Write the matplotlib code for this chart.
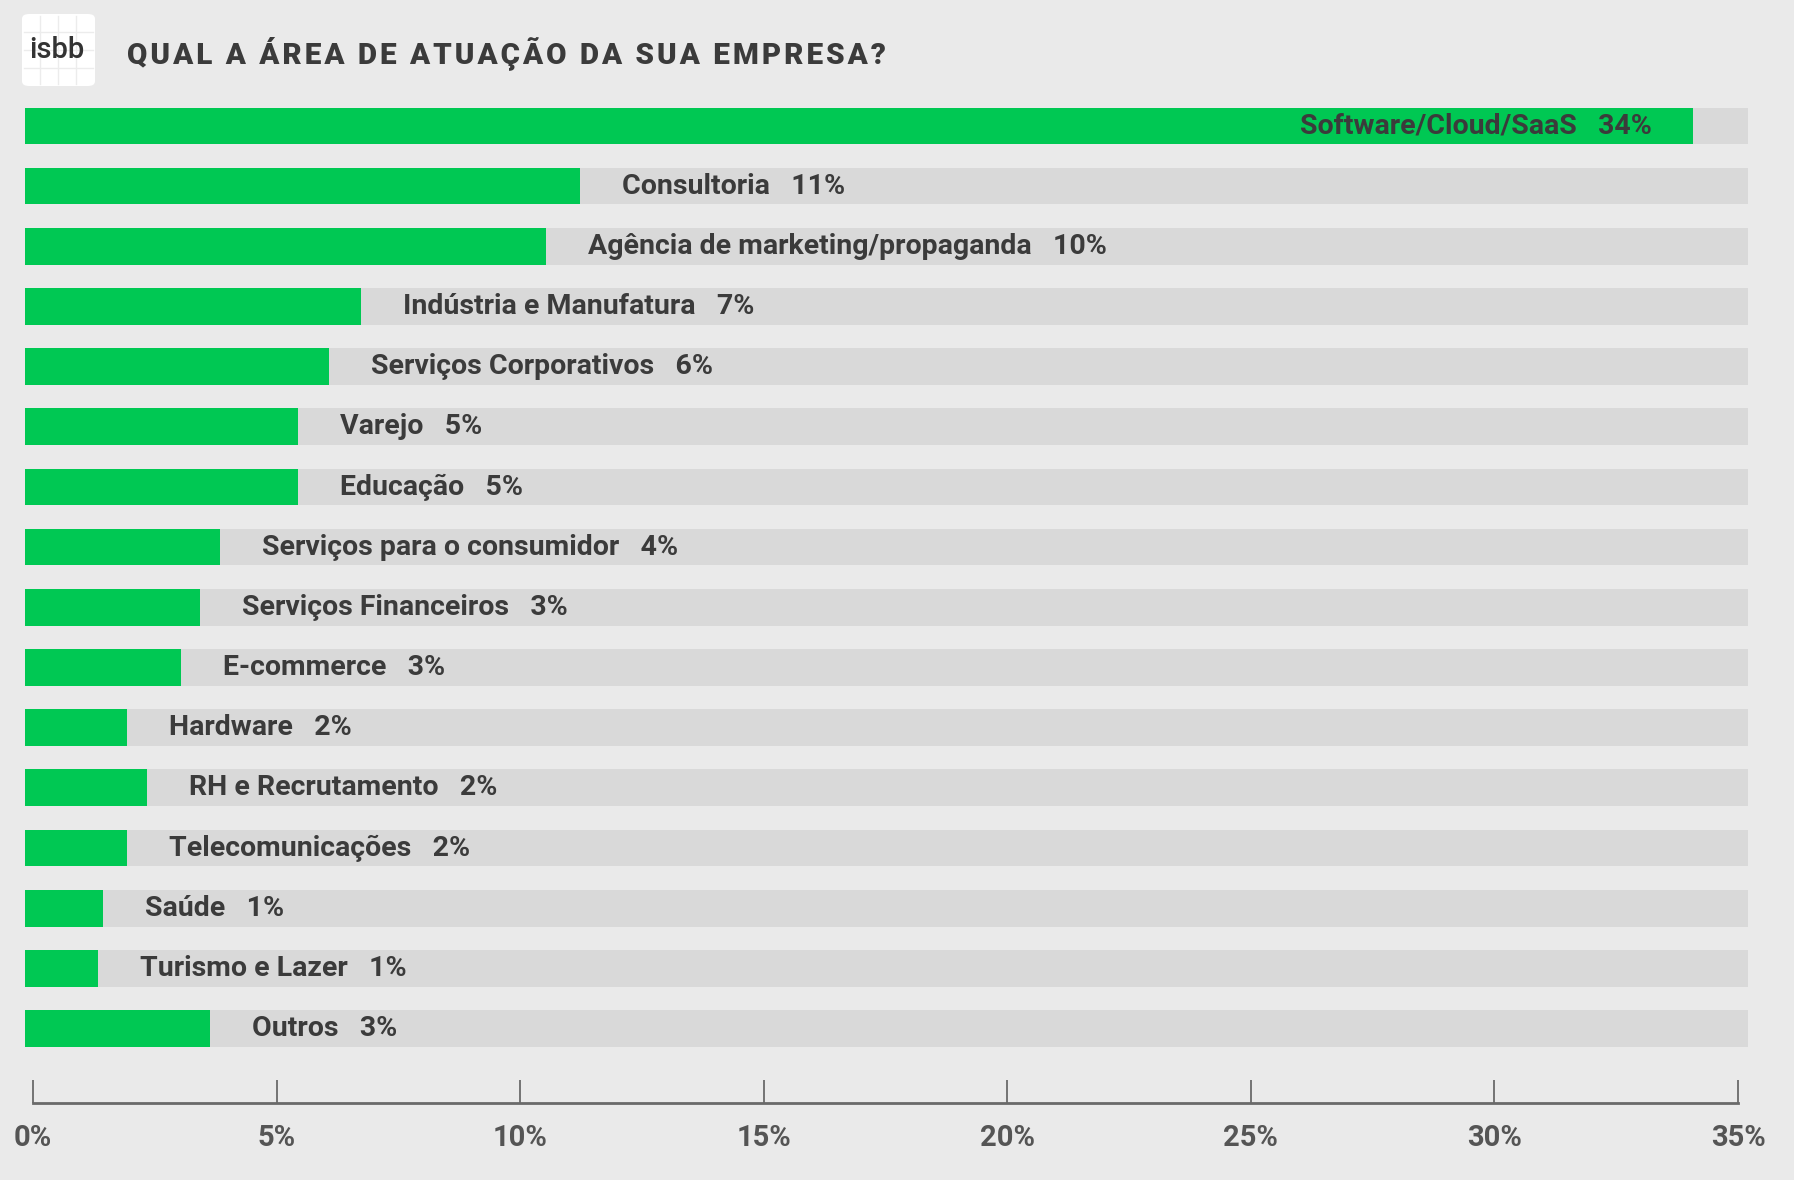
import matplotlib
matplotlib.use("Agg")
import matplotlib.pyplot as plt
from matplotlib.patches import FancyBboxPatch
from matplotlib.lines import Line2D

# ---- data ----
categories = ["Software/Cloud/SaaS", "Consultoria", "Agência de marketing/propaganda",
              "Indústria e Manufatura", "Serviços Corporativos", "Varejo", "Educação",
              "Serviços para o consumidor", "Serviços Financeiros", "E-commerce",
              "Hardware", "RH e Recrutamento", "Telecomunicações", "Saúde",
              "Turismo e Lazer", "Outros"]
bar_values = [34.25, 11.4, 10.7, 6.9, 6.25, 5.6, 5.6, 4.0, 3.6, 3.2, 2.1, 2.5, 2.1, 1.6, 1.5, 3.8]
pct_labels = ["34%", "11%", "10%", "7%", "6%", "5%", "5%", "4%", "3%", "3%",
              "2%", "2%", "2%", "1%", "1%", "3%"]
tick_values = [0, 5, 10, 15, 20, 25, 30, 35]
tick_labels = ["0%", "5%", "10%", "15%", "20%", "25%", "30%", "35%"]
title = "QUAL A ÁREA DE ATUAÇÃO DA SUA EMPRESA?"
logo_text = "isbb"

BG = "#eaeaea"
TRACK = "#d9d9d9"
GREEN = "#00c853"
TXT = "#3b3b3b"
AX = "#6a6a6a"

W, H = 1794, 1180
fig = plt.figure(figsize=(W / 100, H / 100), dpi=100, facecolor=BG)

def fx(px):
    return px / W

def fy(py):
    return 1 - py / H

# ---- bars axes ----
px_per_unit = (1738 - 33) / 35.0
left_px, right_px = 25, 1748
xmax = (right_px - left_px) / px_per_unit
row_top, row_bot = 95.8, 1058.6
ax = fig.add_axes([fx(left_px), fy(row_bot), fx(right_px - left_px), (row_bot - row_top) / H])
ax.set_facecolor("none")
n = len(categories)
ys = list(range(n))
ax.barh(ys, [xmax] * n, height=0.61, color=TRACK, left=0)
ax.barh(ys, bar_values, height=0.61, color=GREEN, left=0)
ax.set_xlim(0, xmax)
ax.set_ylim(n - 0.5, -0.5)
ax.axis("off")

gap = 42 / px_per_unit
lab_font = dict(family=["Roboto", "DejaVu Sans"], fontweight="bold", fontsize=20.5, color=TXT)
for i, (cat, v, p) in enumerate(zip(categories, bar_values, pct_labels)):
    s = f"{cat}   {p}"
    if v > 20:
        ax.text(v - gap, i, s, ha="right", va="center", **lab_font)
    else:
        ax.text(v + gap, i, s, ha="left", va="center", **lab_font)

# ---- scale axis ----
axis_y = 1103
sax = fig.add_axes([fx(33), fy(axis_y), fx(1738 - 33), 0.03])
sax.set_facecolor("none")
sax.set_xlim(0, 35)
sax.set_ylim(0, 1)
for sp in ["top", "left", "right"]:
    sax.spines[sp].set_visible(False)
sax.spines["bottom"].set_color(AX)
sax.spines["bottom"].set_linewidth(2)
sax.set_yticks([])
sax.set_xticks(tick_values)
sax.set_xticklabels(tick_labels)
sax.tick_params(axis="x", direction="in", length=16.5, width=1.3, color=AX, pad=15,
                labelsize=21, labelcolor="#555555")
for t in sax.get_xticklabels():
    t.set_fontfamily(["Roboto", "DejaVu Sans"])
    t.set_fontweight("bold")

# ---- title (letter-spaced with hair spaces) ----
spaced_title = "\u200a".join(title)
fig.text(fx(127), fy(53), spaced_title, ha="left", va="center", fontsize=21.3,
         fontweight="heavy", color=TXT, family=["Roboto", "DejaVu Sans"])

# ---- logo ----
lx0, ly0, lx1, ly1 = 22, 14, 95, 86
logo = FancyBboxPatch((fx(lx0), fy(ly1)), fx(lx1 - lx0), (ly1 - ly0) / H,
                      boxstyle="round,pad=0,rounding_size=0.004",
                      transform=fig.transFigure, facecolor="white", edgecolor="none")
fig.patches.append(logo)
for gx in [40, 58, 76]:
    fig.lines.append(Line2D([fx(gx), fx(gx)], [fy(ly1 - 2), fy(ly0 + 2)],
                            transform=fig.transFigure, color="#ececec", lw=1))
for gy in [32, 50, 68]:
    fig.lines.append(Line2D([fx(lx0 + 2), fx(lx1 - 2)], [fy(gy), fy(gy)],
                            transform=fig.transFigure, color="#ececec", lw=1))
fig.text(fx(57), fy(50), logo_text, ha="center", va="center", fontsize=21,
         color="#333333", fontweight="medium", family=["Roboto", "DejaVu Sans"])

fig.savefig("out.png", dpi=100, facecolor=BG)
